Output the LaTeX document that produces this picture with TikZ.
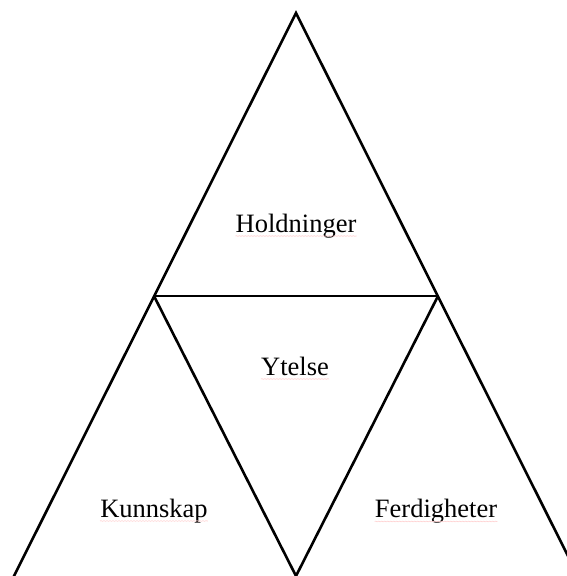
\documentclass[tikz,border=0pt]{standalone}
\usepackage{fontspec}
\setmainfont{Liberation Serif}
\usetikzlibrary{decorations.pathmorphing}
\begin{document}
\begin{tikzpicture}[x=1pt,y=-1pt,
  edge/.style={draw=black,line width=2.6pt,line join=miter},
  label/.style={inner sep=0pt,anchor=base,font=\fontsize{26.5}{30}\selectfont,text=black},
  squig/.style={draw=red!18,line width=0.6pt,decorate,decoration={snake,amplitude=0.4pt,segment length=3pt}}]
\useasboundingbox (0,0) rectangle (567,576);
\clip (0,0) rectangle (567,576);
\fill[white] (0,0) rectangle (567,576);
% vertices
\coordinate (A) at (296,13);
\coordinate (L) at (154,296);
\coordinate (R) at (438,296);
\coordinate (B) at (296,576);
\coordinate (BL) at (12,580);
\coordinate (BR) at (580,580);
% outer triangle sides
\draw[edge] (BL) -- (A) -- (BR);
% middle line
\draw[edge] (L) -- (R);
% inner V
\draw[edge] (L) -- (B) -- (R);
% labels
\node[label] (hold) at (296,232) {Holdninger};
\node[label] (ytel) at (295,375) {Ytelse};
\node[label] (kunn) at (154,517) {Kunnskap};
\node[label] (ferd) at (436,517.5) {Ferdigheter};
% spell-check squiggles (below the baseline)
\foreach \n in {hold,ytel,kunn,ferd}{
  \draw[squig] ([yshift=-4pt]\n.base west) -- ([yshift=-4pt]\n.base east);
}
\end{tikzpicture}
\end{document}
